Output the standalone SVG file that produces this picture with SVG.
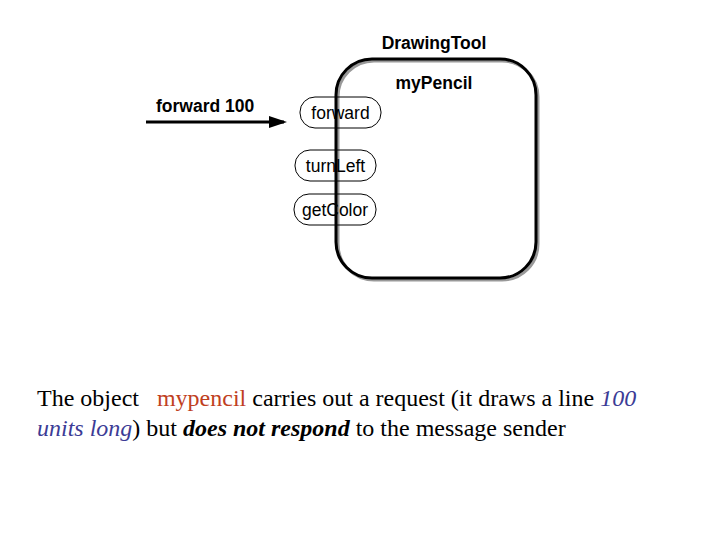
<svg xmlns="http://www.w3.org/2000/svg" width="720" height="540" viewBox="0 0 720 540">
<style>
.s{font-family:"Liberation Sans",Arial,sans-serif;font-size:17.5px;fill:#000}
.b{font-weight:bold}
.pill{fill:none;stroke:#000;stroke-width:1}
.body{font-family:"Liberation Serif","Times New Roman",serif;font-size:24px;fill:#000}
</style>
<defs>
<marker id="ah" markerWidth="6" markerHeight="4" refX="5" refY="2" orient="auto" markerUnits="strokeWidth">
<path d="M0,0 L6,2 L0,4 Z" fill="#000"/>
</marker>
</defs>
<rect width="720" height="540" fill="#fff"/>
<g id="drawingtool">
<text class="s b" x="434" y="49" text-anchor="middle">DrawingTool</text>
</g>
<g id="mypencil">
<rect x="338" y="61" width="200" height="219" rx="36" fill="none" stroke="#999" stroke-width="3"/>
<rect x="336" y="59" width="200" height="219" rx="36" fill="none" stroke="#000" stroke-width="3"/>
<text class="s b" x="434" y="89" text-anchor="middle">myPencil</text>
</g>
<g id="forward">
<rect class="pill" x="300" y="97" width="81" height="31" rx="15"/>
<text class="s" x="340.5" y="119" text-anchor="middle">forward</text>
</g>
<g id="turnLeft">
<rect class="pill" x="295" y="150" width="81" height="31" rx="15"/>
<text class="s" x="335.5" y="172" text-anchor="middle">turnLeft</text>
</g>
<g id="getColor">
<rect class="pill" x="294" y="194" width="82" height="31" rx="15"/>
<text class="s" x="335" y="216" text-anchor="middle">getColor</text>
</g>
<g id="connectors">
<line x1="146" y1="122" x2="284" y2="122" stroke="#000" stroke-width="3" marker-end="url(#ah)"/>
<text class="s b" x="156" y="112">forward 100</text>
</g>
<text class="body" x="37" y="406" xml:space="preserve">The object   <tspan fill="#c0401e">mypencil</tspan> carries out a request (it draws a line <tspan fill="#3c3c96" font-style="italic">100</tspan></text>
<text class="body" x="37" y="436"><tspan fill="#3c3c96" font-style="italic">units long</tspan>) but <tspan font-weight="bold" font-style="italic">does not respond</tspan> to the message sender</text>
</svg>
